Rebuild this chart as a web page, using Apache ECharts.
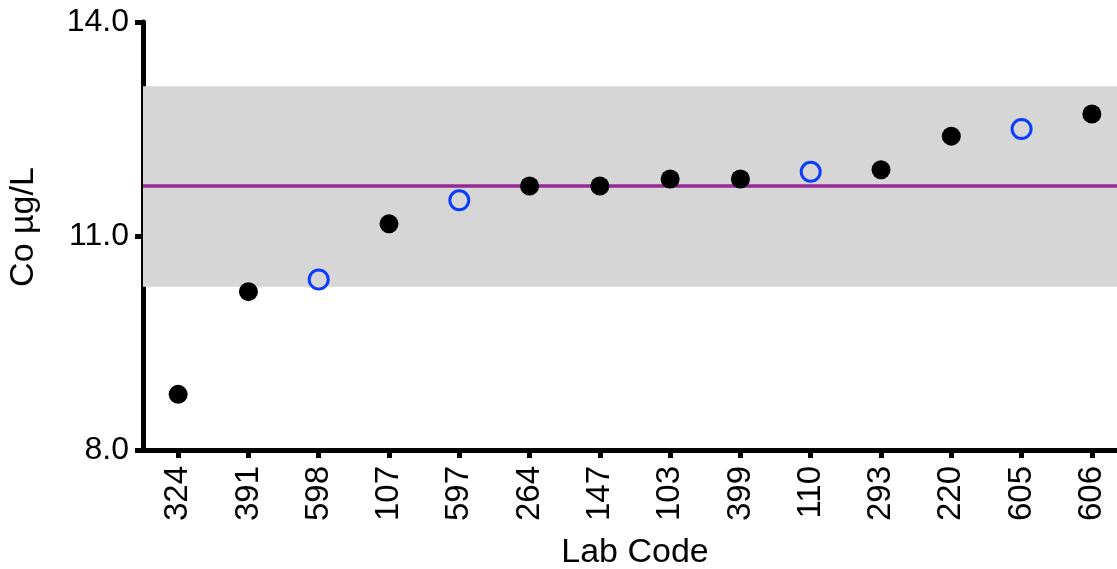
<!DOCTYPE html>
<html>
<head>
<meta charset="utf-8">
<script src="https://cdn.jsdelivr.net/npm/echarts@6/dist/echarts.min.js"></script>
<style>
html,body{margin:0;padding:0;background:#fff;}
#chart{width:1117px;height:569px;}
</style>
</head>
<body>
<div id="chart"></div>
<script>
// Lab codes (x categories)
const labCodes = ['324','391','598','107','597','264','147','103','399','110','293','220','605','606'];
// Co concentration (µg/L) per lab
const coValues = [8.78, 10.22, 10.39, 11.17, 11.50, 11.70, 11.70, 11.80, 11.80, 11.90, 11.93, 12.40, 12.50, 12.71];
// marker type: 1 = open blue circle, 0 = filled black circle
const openMarker = [0, 0, 1, 0, 1, 0, 0, 0, 0, 1, 0, 0, 1, 0];
// y-axis ticks
const yTicks = [8.0, 11.0, 14.0];
// reference values
const assignedValue = [11.70];
const acceptRange = [10.29, 13.10];

const FONT = 'Liberation Sans, Arial, sans-serif';
const filledData = coValues.map((v, i) => openMarker[i] ? null : v);
const openData = coValues.map((v, i) => openMarker[i] ? v : null);

const chart = echarts.init(document.getElementById('chart'));
chart.setOption({
  animation: false,
  backgroundColor: '#ffffff',
  grid: { left: 143, right: -10, top: 22, bottom: 119, containLabel: false, outerBoundsMode: 'none' },
  xAxis: {
    type: 'category',
    data: labCodes,
    boundaryGap: true,
    name: 'Lab Code',
    nameLocation: 'middle',
    nameGap: 86,
    nameTextStyle: { fontFamily: FONT, fontSize: 34, color: '#000' },
    axisLine: { show: true, lineStyle: { color: '#000', width: 5 } },
    axisTick: { show: true, alignWithLabel: true, length: 8, lineStyle: { color: '#000', width: 5 } },
    axisLabel: { rotate: 90, margin: 16, fontFamily: FONT, fontSize: 33, color: '#000', interval: 0 },
    splitLine: { show: false }
  },
  yAxis: {
    type: 'value',
    min: yTicks[0],
    max: yTicks[yTicks.length - 1],
    interval: yTicks[1] - yTicks[0],
    name: 'Co µg/L',
    nameLocation: 'middle',
    nameGap: 102,
    nameRotate: 90,
    nameTextStyle: { fontFamily: FONT, fontSize: 34, color: '#000', padding: [0, 0, 0, 18] },
    axisLine: { show: true, lineStyle: { color: '#000', width: 5 } },
    axisTick: { show: true, length: 8, lineStyle: { color: '#000', width: 5 } },
    axisLabel: { margin: 14, fontFamily: FONT, fontSize: 32, color: '#000', formatter: v => v.toFixed(1) },
    splitLine: { show: false }
  },
  series: [
    {
      type: 'scatter',
      name: 'band',
      data: [],
      silent: true,
      z: 1,
      markArea: {
        silent: true,
        itemStyle: { color: '#d6d6d6' },
        data: [[{ yAxis: acceptRange[1] }, { yAxis: acceptRange[0] }]]
      },
      markLine: {
        silent: true,
        symbol: ['none', 'none'],
        label: { show: false },
        lineStyle: { color: '#952a92', width: 3.5, type: 'solid' },
        data: [{ yAxis: assignedValue[0] }]
      }
    },
    {
      type: 'scatter',
      name: 'filled',
      data: filledData,
      symbol: 'circle',
      symbolSize: 19,
      itemStyle: { color: '#000', opacity: 1 },
      z: 5
    },
    {
      type: 'scatter',
      name: 'open',
      data: openData,
      symbol: 'circle',
      symbolSize: 19,
      itemStyle: { color: 'rgba(0,0,0,0)', borderColor: '#0a3cff', borderWidth: 3, opacity: 1 },
      z: 5
    }
  ]
});
</script>
</body>
</html>
